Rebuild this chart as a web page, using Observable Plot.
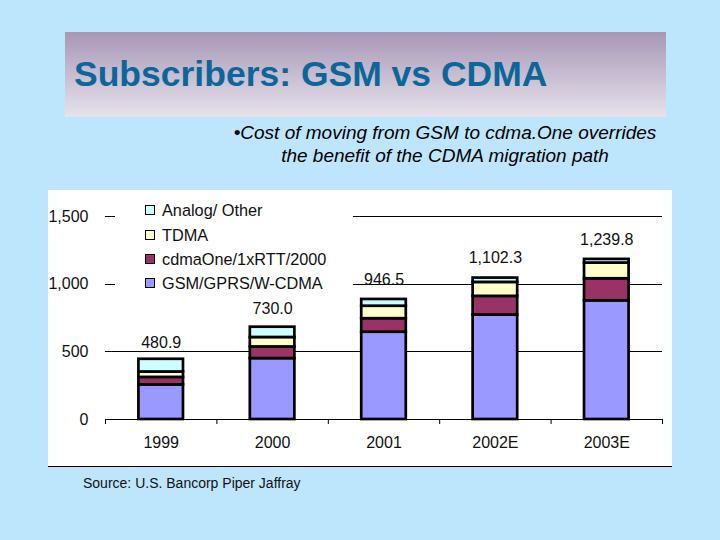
<!DOCTYPE html>
<html>
<head>
<meta charset="utf-8">
<script src="https://cdn.jsdelivr.net/npm/d3@7"></script>
<script src="https://cdn.jsdelivr.net/npm/@observablehq/plot@0.6"></script>
<style>
  html, body { margin: 0; padding: 0; }
  body { width: 720px; height: 540px; background: #BDE6FD; position: relative; overflow: hidden;
         font-family: "Liberation Sans", Arial, sans-serif; }
  #titlebox { position: absolute; left: 65px; top: 32px; width: 601px; height: 85px;
              background: linear-gradient(#A797B6, #E7E2EB); }
  #title { position: absolute; left: 9px; top: 22px; font-size: 35.5px; font-weight: bold; color: #0B6699;
           white-space: nowrap; }
  #subtitle { position: absolute; left: 145px; width: 600px; top: 121px; text-align: center;
              font-size: 19px; font-style: italic; color: #000; line-height: 23px; }
  #panel { position: absolute; left: 48px; top: 190px; width: 624px; height: 276px; background: #fff;
           border-bottom: 1.5px solid #000; }
  #legend { position: absolute; left: 115px; top: 198px; width: 238px; height: 98px; background: #fff; }
  .item { position: absolute; left: 30px; height: 20px; font-size: 16.3px; color: #111; white-space: nowrap; }
  .sw { position: absolute; left: 0; top: 5px; width: 8px; height: 8px; border: 1.5px solid #000; }
  .item span.t { position: absolute; left: 17px; top: 0; line-height: 20px; }
  #source { position: absolute; left: 83px; top: 475px; font-size: 14px; color: #111; }
</style>
</head>
<body>
<div id="titlebox"><div id="title">Subscribers: GSM vs CDMA</div></div>
<div id="subtitle">•Cost of moving from GSM to cdma.One overrides<br>the benefit of the CDMA migration path</div>
<div id="panel"></div>
<div id="legend"></div>
<div id="source">Source: U.S. Bancorp Piper Jaffray</div>
<script>
// ---- data ----
const years = ["1999", "2000", "2001", "2002E", "2003E"];
const seriesNames = ["GSM/GPRS/W-CDMA", "cdmaOne/1xRTT/2000", "TDMA", "Analog/ Other"];
const gsm    = [256, 450, 645, 772, 877];
const cdma   = [55, 86, 100, 138, 163];
const tdma   = [40, 70, 92, 103, 116];
const analog = [94, 76, 50, 32, 27];
const totalValues = [480.9, 730.0, 946.5, 1102.3, 1239.8];
const totalLabels = ["480.9", "730.0", "946.5", "1,102.3", "1,239.8"];
const yTicks = [0, 500, 1000, 1500];
const colors = ["#9999FF", "#993366", "#FFFFCC", "#CCFFFF"];

// ---- table ----
const seriesValues = [gsm, cdma, tdma, analog];
const rows = [];
years.forEach((yr, i) => {
  let acc = 0;
  seriesValues.forEach((vals, s) => {
    rows.push({year: yr, i, series: seriesNames[s], y1: acc, y2: acc + vals[i]});
    acc += vals[i];
  });
});
const labels = years.map((yr, i) => ({i, v: totalValues[i], t: totalLabels[i]}));

const chart = Plot.plot({
  width: 624,
  height: 276,
  marginLeft: 57,
  marginRight: 10,
  marginTop: 26,
  marginBottom: 47,
  style: {fontFamily: '"Liberation Sans", Arial, sans-serif', fontSize: "16px", color: "#111", background: "transparent"},
  x: {type: "linear", domain: [0, years.length]},
  y: {domain: [0, 1500]},
  color: {domain: seriesNames, range: colors},
  marks: [
    Plot.ruleY(yTicks.filter(d => d > 0), {stroke: "#000", strokeWidth: 1, shapeRendering: "crispEdges"}),
    Plot.axisY({ticks: yTicks, tickSize: 0, tickPadding: 17, tickFormat: d3.format(","), label: null, fontSize: 16}),
    Plot.axisX({ticks: d3.range(years.length + 1), tickSize: 5, tickFormat: () => "", label: null, stroke: "#000"}),
    Plot.axisX({ticks: years.map((d, i) => i + 0.5), tickSize: 0, tickPadding: 17, tickFormat: d => years[Math.floor(d)], label: null, fontSize: 16}),
    Plot.rectY(rows, {x1: d => d.i + 0.3, x2: d => d.i + 0.7, y1: "y1", y2: "y2", fill: "series", stroke: "#000", strokeWidth: 2.7}),
    Plot.ruleY([0], {stroke: "#000", strokeWidth: 1, shapeRendering: "crispEdges"}),
    Plot.text(labels, {x: d => d.i + 0.5, y: "v", text: "t", dy: -12, fontSize: 16, fill: "#111"})
  ]
});
document.getElementById("panel").appendChild(chart);

// legend
const legend = document.getElementById("legend");
const order = [3, 2, 1, 0];
const rowTops = [2, 27, 51, 75];
order.forEach((s, k) => {
  const it = document.createElement("div");
  it.className = "item";
  it.style.top = rowTops[k] + "px";
  it.innerHTML = `<div class="sw" style="background:${colors[s]}"></div><span class="t">${seriesNames[s]}</span>`;
  legend.appendChild(it);
});
</script>
</body>
</html>
